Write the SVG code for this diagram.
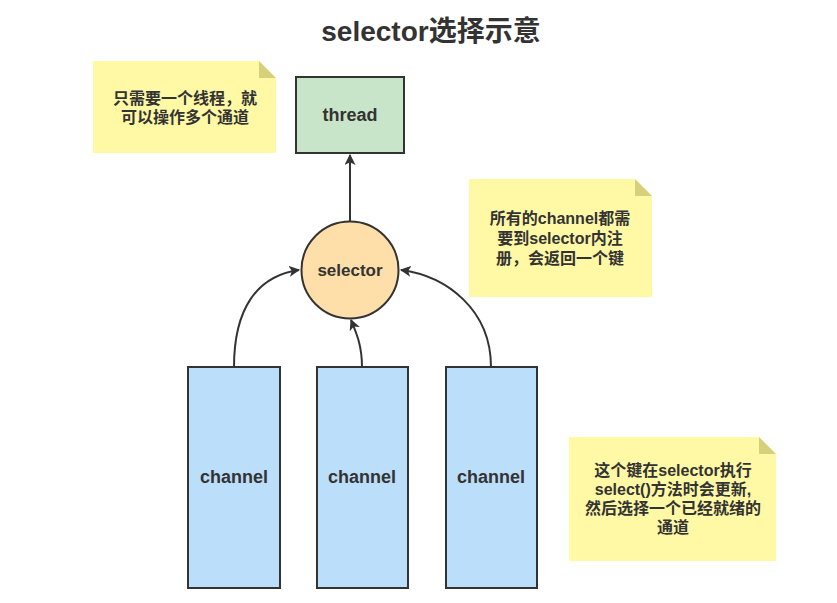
<svg xmlns="http://www.w3.org/2000/svg" width="837" height="603" viewBox="0 0 837 603">
<defs>
<style>
text{font-family:"Liberation Sans","Noto Sans CJK SC",sans-serif;font-weight:bold;fill:#333;text-anchor:middle;dominant-baseline:central}
.note{fill:#fff9a6;stroke:none}
.fold{fill:#d6cf7c;stroke:none}
.box{stroke:#333;stroke-width:2}
.conn{fill:none;stroke:#333;stroke-width:2;marker-end:url(#arr)}
.nt{font-size:16px}
.ch{font-size:18px}
</style>
<marker id="arr" viewBox="0 0 10 10" refX="9" refY="5" markerWidth="5.5" markerHeight="5.5" orient="auto" markerUnits="strokeWidth">
<path d="M0 0L10 5L0 10L2.5 5Z" fill="#333"/>
</marker>
</defs>
<rect width="837" height="603" fill="#fff"/>
<text x="431" y="31" style="font-size:28px">selector选择示意</text>

<g id="note1">
<path class="note" d="M93 61H259L276 78V153H93Z"/>
<path class="fold" d="M259 61L276 78H259Z"/>
<text class="nt" x="185" y="98">只需要一个线程，就</text>
<text class="nt" x="185" y="117">可以操作多个通道</text>
</g>

<g id="thread">
<rect class="box" x="296" y="77" width="108" height="76" fill="#c9e5c9"/>
<text x="350" y="115" style="font-size:18px">thread</text>
</g>

<g id="note2">
<path class="note" d="M469 179H635L652 196V297H469Z"/>
<path class="fold" d="M635 179L652 196H635Z"/>
<text class="nt" x="560" y="218">所有的channel都需</text>
<text class="nt" x="560" y="238">要到selector内注</text>
<text class="nt" x="560" y="258">册，会返回一个键</text>
</g>

<g id="selector">
<circle class="box" cx="350" cy="270" r="48.5" fill="#ffdfa9"/>
<text x="350" y="270" style="font-size:17px">selector</text>
</g>

<g id="channel1">
<rect class="box" x="188" y="367" width="92" height="221" fill="#bbdefa"/>
<text class="ch" x="234" y="477">channel</text>
</g>
<g id="channel2">
<rect class="box" x="317" y="367" width="91" height="221" fill="#bbdefa"/>
<text class="ch" x="362" y="477">channel</text>
</g>
<g id="channel3">
<rect class="box" x="446" y="367" width="91" height="221" fill="#bbdefa"/>
<text class="ch" x="491" y="477">channel</text>
</g>

<g id="note3">
<path class="note" d="M569 437H759L776 454V561H569Z"/>
<path class="fold" d="M759 437L776 454H759Z"/>
<text class="nt" x="673" y="470">这个键在selector执行</text>
<text class="nt" x="673" y="489">select()方法时会更新,</text>
<text class="nt" x="673" y="508">然后选择一个已经就绪的</text>
<text class="nt" x="673" y="527">通道</text>
</g>

<g id="connectors">
<path class="conn" d="M350 221V155"/>
<path class="conn" d="M234 367C234 310 256 276 299 270"/>
<path class="conn" d="M362 367C362 345 356 332 351 320"/>
<path class="conn" d="M491 367C491 310 447 276 401 270"/>
</g>
</svg>
